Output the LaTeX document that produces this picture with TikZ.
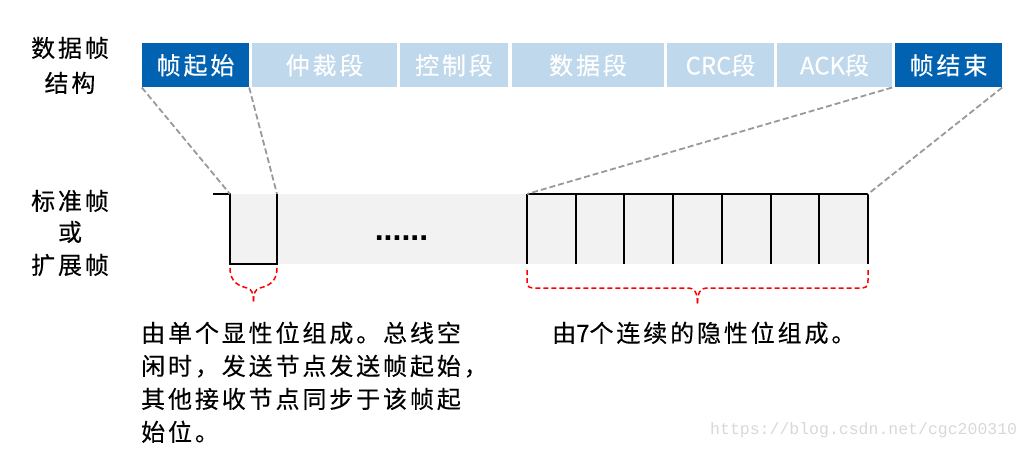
\documentclass[tikz,border=0pt]{standalone}
\usepackage{fontspec}
\newfontfamily\cjk{Noto Sans CJK SC}[LetterSpace=12,FakeBold=0.3]
\newfontfamily\lat{Noto Sans CJK SC}[FakeBold=0.3]
\newfontfamily\wmf{Liberation Mono}
\newfontfamily\dotf{Liberation Sans Bold}
\definecolor{dkblue}{HTML}{0062B0}
\definecolor{ltblue}{HTML}{BFD8EC}
\definecolor{bandgray}{HTML}{F2F2F2}
\definecolor{dashgray}{HTML}{999999}
\definecolor{wmgray}{HTML}{D8D8D8}
\definecolor{bracered}{HTML}{FF0000}
\begin{document}
\begin{tikzpicture}[x=1pt,y=-1pt,
  seg/.style={minimum height=44pt, inner sep=0pt, text=white,
    font=\cjk\fontsize{24}{24}\selectfont},
  darkseg/.style={seg, fill=dkblue},
  lightseg/.style={seg, fill=ltblue},
  lbl/.style={anchor=base, inner sep=0pt, font=\cjk\fontsize{24}{24}\selectfont},
  desc/.style={anchor=base west, inner sep=0pt, font=\cjk\fontsize{24}{24}\selectfont},
  wave/.style={line width=2pt, black},
  guide/.style={dashgray, line width=1.8pt, dash pattern=on 6pt off 3pt},
  bracepath/.style={bracered, line width=1.5pt, dash pattern=on 5pt off 3pt}]
\useasboundingbox (0,0) rectangle (1032,451);

% frame structure row
\node[darkseg,  minimum width=107pt] (b1) at (195.5,65.3) {帧起始};
\node[lightseg, minimum width=145pt] (b2) at (324.5,65.3) {仲裁段};
\node[lightseg, minimum width=108pt] (b3) at (454,65.3) {控制段};
\node[lightseg, minimum width=152pt] (b4) at (588,65.3) {数据段};
\node[lightseg, minimum width=107pt] (b5) at (720.5,65.3) {{\lat CRC}段};
\node[lightseg, minimum width=115pt] (b6) at (834.5,65.3) {{\lat ACK}段};
\node[darkseg,  minimum width=107pt] (b7) at (948.5,65.3) {帧结束};

% left labels
\node[lbl] (l1) at (70,57) {数据帧};
\node[lbl] (l2) at (70,92) {结构};
\node[lbl] (l3) at (70,210) {标准帧};
\node[lbl] (l4) at (70,241) {或};
\node[lbl] (l5) at (70,274) {扩展帧};

% band
\fill[bandgray] (230,194) rectangle (868,264);

% waveform coordinates
\coordinate (w0) at (213,194);
\coordinate (w1) at (230,194);
\coordinate (w2) at (230,264);
\coordinate (w3) at (277,264);
\coordinate (w4) at (277,194);
\coordinate (e0) at (527,194);
\coordinate (e7) at (868,194);

\draw[wave] (w0) -- (w1) -- (w2) -- (w3) -- (w4);
\draw[wave] (e0) -- (e7);
\foreach \x in {527,575.7,624.4,673.1,721.9,770.6,819.3,868}
  \draw[wave] (\x,194) -- (\x,264);

\node[anchor=base, inner sep=0pt, font=\dotf\fontsize{32}{32}\selectfont] (dots) at (401.5,240) {......};

% guide lines
\draw[guide] (b1.south west) -- (w1);
\draw[guide] (b1.south east) -- (w4);
\draw[guide] (b6.south east) -- (e0);
\draw[guide] (b7.south east) -- (e7);

% braces
\coordinate (s0) at (230,268);
\coordinate (s1) at (277,268);
\coordinate (st) at (253.5,302);
\draw[bracepath] (s0) .. controls (230,283) and (240,286) .. (247,288)
  .. controls (252,289.5) and (253.5,293) .. (st);
\draw[bracepath] (s1) .. controls (277,283) and (267,286) .. (260,288)
  .. controls (255,289.5) and (253.5,293) .. (st);

\coordinate (L0) at (527,270);
\coordinate (L1) at (868,270);
\coordinate (Lt) at (697.5,305);
\draw[bracepath] (L0) -- (527,280) .. controls (527,288) and (529,288) .. (537,288)
  -- (687,288) .. controls (695,288) and (697.5,292) .. (Lt);
\draw[bracepath] (L1) -- (868,280) .. controls (868,288) and (866,288) .. (858,288)
  -- (708,288) .. controls (700,288) and (697.5,292) .. (Lt);

% descriptions
\node[desc] (d1) at (141,342) {由单个显性位组成。总线空};
\node[desc] (d2) at (141,375) {闲时，发送节点发送帧起始，};
\node[desc] (d3) at (141,408) {其他接收节点同步于该帧起};
\node[desc] (d4) at (141,441) {始位。};
\node[desc] (d5) at (552,342) {由{\lat 7}个连续的隐性位组成。};

% watermark
\node[anchor=west, inner sep=0pt, text=wmgray, font=\wmf\fontsize{16.5}{16.5}\selectfont] (wm) at (710,430) {https://blog.csdn.net/cgc200310};
\end{tikzpicture}
\end{document}
